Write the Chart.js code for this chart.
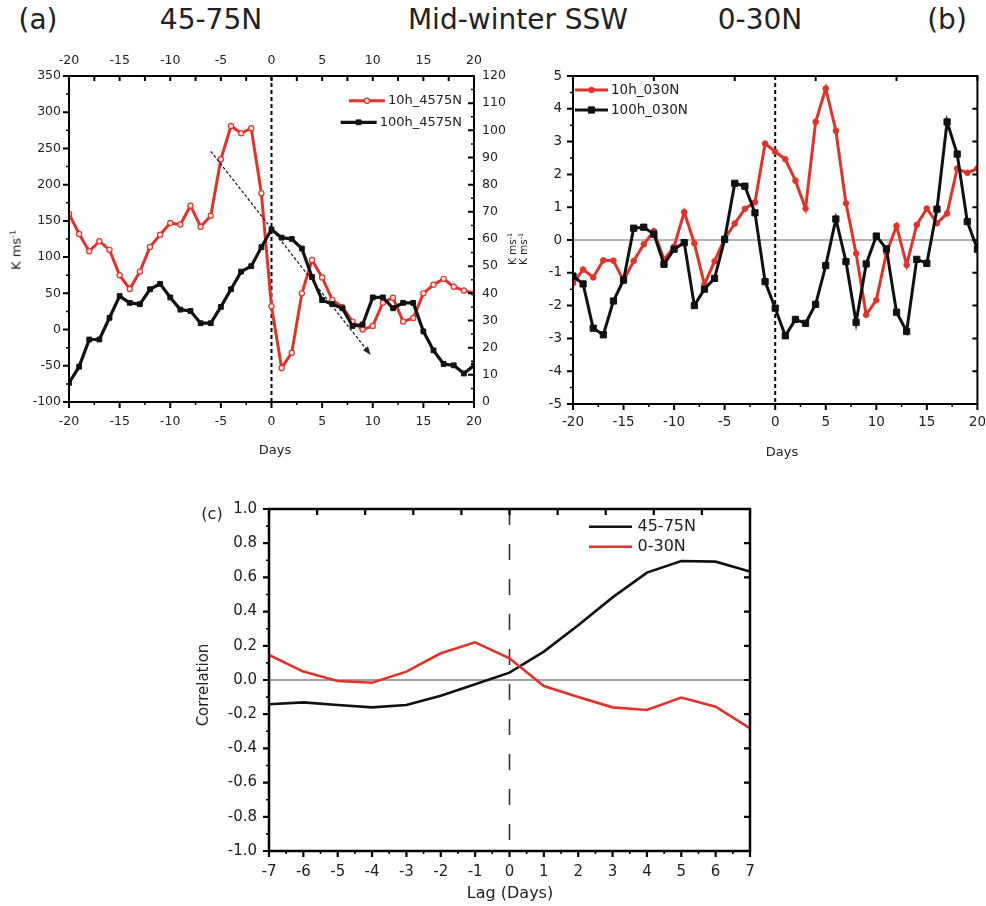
<!DOCTYPE html>
<html>
<head>
<meta charset="utf-8">
<script src="https://cdn.jsdelivr.net/npm/chart.js@4.4.0/dist/chart.umd.min.js"></script>
<style>
  body { margin: 0; background: #fff; font-family: "DejaVu Sans", sans-serif; color: #222; }
  #page { position: relative; width: 986px; height: 906px; overflow: hidden; }
  canvas { position: absolute; }
  .lbl { position: absolute; transform: translate(-50%, -50%); white-space: nowrap; line-height: 1; }
  .rot { transform: translate(-50%, -50%) rotate(-90deg); }
  sup { font-size: 0.6em; vertical-align: 0.65em; line-height: 0; }
</style>
</head>
<body>
<div id="page">
  <canvas id="cA" width="535" height="430" style="left:0;top:40px"></canvas>
  <canvas id="cB" width="461" height="430" style="left:535px;top:40px"></canvas>
  <canvas id="cC" width="650" height="426" style="left:150px;top:480px"></canvas>

  <div class="lbl" style="left:38px;top:20px;font-size:28px">(a)</div>
  <div class="lbl" style="left:211px;top:20px;font-size:28px">45-75N</div>
  <div class="lbl" style="left:518px;top:20px;font-size:28px">Mid-winter SSW</div>
  <div class="lbl" style="left:760px;top:20px;font-size:28px">0-30N</div>
  <div class="lbl" style="left:947px;top:20px;font-size:28px">(b)</div>

  <div class="lbl rot" style="left:16px;top:250px;font-size:13px">K ms<sup>-1</sup></div>
  <div class="lbl rot" style="left:512px;top:249px;font-size:10.5px">K ms<sup>-1</sup></div>
  <div class="lbl rot" style="left:523px;top:249px;font-size:10.5px">K ms<sup>-1</sup></div>
  <div class="lbl" style="left:275px;top:449px;font-size:13px">Days</div>
  <div class="lbl" style="left:782px;top:451px;font-size:13px">Days</div>

  <div class="lbl" style="left:212px;top:514px;font-size:16px">(c)</div>
  <div class="lbl rot" style="left:203px;top:685px;font-size:15px">Correlation</div>
  <div class="lbl" style="left:510px;top:893px;font-size:16px">Lag (Days)</div>
</div>
<script>
// days relative to the warming onset
const days = [-20, -19, -18, -17, -16, -15, -14, -13, -12, -11, -10, -9, -8, -7, -6, -5, -4, -3, -2, -1,
              0, 1, 2, 3, 4, 5, 6, 7, 8, 9, 10, 11, 12, 13, 14, 15, 16, 17, 18, 19, 20];

// heat flux 45-75N, 10 hPa (left axis) and 100 hPa (right axis)
const flux10hMid = [160, 132, 108, 122, 110, 75, 56, 80, 114, 131, 147, 145, 171, 142, 157, 235, 281, 271, 278, 188,
                    32, -53, -32, 50, 96, 72, 41, 31, 11, 0, 5, 37, 44, 11, 16, 50, 62, 70, 59, 54, 50];
const flux100hMid = [7, 13, 23, 23, 31, 39, 36.5, 36, 41.5, 43.5, 38.5, 34, 33.5, 29, 29, 35, 41.5, 48, 50, 57,
                     63.5, 60.5, 60, 56.5, 46, 37.5, 36, 34.5, 28, 28.5, 38.5, 38.5, 34.5, 36.5, 36.5, 26, 19, 14, 13.5, 10.5, 13.5];

// heat flux 0-30N
const flux10hLow = [-1.32, -0.9, -1.14, -0.62, -0.63, -1.24, -0.64, -0.13, 0.27, -0.6, -0.2, 0.85, -0.1, -1.35, -0.65, 0.05, 0.5, 0.95, 1.15, 2.94,
                    2.69, 2.46, 1.81, 0.96, 3.6, 4.62, 3.33, 1.12, -0.41, -2.28, -1.83, -0.4, 0.43, -0.76, 0.46, 0.96, 0.51, 0.81, 2.18, 2.05, 2.18];
const flux100hLow = [-1.1, -1.34, -2.69, -2.89, -1.86, -1.22, 0.36, 0.39, 0.18, -0.74, -0.28, -0.08, -2.0, -1.5, -1.17, 0.02, 1.73, 1.64, 0.83, -1.27,
                     -2.08, -2.92, -2.42, -2.54, -1.96, -0.78, 0.64, -0.66, -2.51, -0.73, 0.12, -0.27, -2.2, -2.79, -0.59, -0.71, 0.94, 3.6, 2.62, 0.56, -0.28];

// lagged correlation between the two levels
const lags = [-7, -6, -5, -4, -3, -2, -1, 0, 1, 2, 3, 4, 5, 6, 7];
const corrMid = [-0.142, -0.131, -0.146, -0.16, -0.146, -0.092, -0.025, 0.043, 0.166, 0.32, 0.483, 0.628, 0.696, 0.692, 0.634];
const corrLow = [0.146, 0.049, -0.006, -0.016, 0.049, 0.156, 0.22, 0.127, -0.035, -0.1, -0.16, -0.175, -0.103, -0.156, -0.283];

// dashed trend arrow in panel a (day, K m/s)
const trendArrow = [[-6, 246], [9.8, -35]];

const RED = '#e4322b';
const BLACK = '#111';
const FONT = 'DejaVu Sans';

function pts(xs, ys) { return xs.map((x, i) => ({ x: x, y: ys[i] })); }

function axis(extra, size, fontSize, pad) {
  const vertical = extra.position === 'left' || extra.position === 'right';
  return Object.assign({
    type: 'linear',
    grid: { display: false, drawTicks: false },
    border: { display: false },
    ticks: { font: { family: FONT, size: fontSize }, color: '#222', padding: pad, autoSkip: false, maxRotation: 0 },
    afterFit: s => { if (vertical) s.width = size; else s.height = size; }
  }, extra, { ticks: Object.assign({ font: { family: FONT, size: fontSize }, color: '#222', padding: pad, autoSkip: false, maxRotation: 0 }, extra.ticks || {}) });
}

function marker(ctx, ds, x, y) {
  const r = ds.pointRadius;
  if (!r) return;
  ctx.fillStyle = ds.pointBackgroundColor;
  ctx.strokeStyle = ds.pointBorderColor;
  ctx.lineWidth = ds.pointBorderWidth;
  ctx.beginPath();
  if (ds.pointStyle === 'rect') {
    const s = r * Math.SQRT1_2;
    ctx.rect(x - s, y - s, 2 * s, 2 * s);
  } else {
    ctx.arc(x, y, r, 0, Math.PI * 2);
  }
  ctx.fill();
  ctx.stroke();
}

// frame, tick marks, reference lines, arrow and in-plot legend
const panelDecor = {
  id: 'panelDecor',
  beforeDatasetsDraw(chart, args, o) {
    const { ctx, chartArea: a } = chart;
    ctx.save();
    ctx.beginPath();
    ctx.rect(a.left, a.top, a.right - a.left, a.bottom - a.top);
    ctx.clip();
    (o.refs || []).forEach(r => {
      const sc = chart.scales[r.scale];
      const p = sc.getPixelForValue(r.value);
      ctx.beginPath();
      ctx.setLineDash(r.dash || []);
      ctx.lineWidth = r.width;
      ctx.strokeStyle = r.color;
      if (sc.isHorizontal()) { ctx.moveTo(p, a.top); ctx.lineTo(p, a.bottom); }
      else { ctx.moveTo(a.left, p); ctx.lineTo(a.right, p); }
      ctx.stroke();
    });
    ctx.restore();
  },
  afterDatasetsDraw(chart, args, o) {
    const { ctx, chartArea: a } = chart;
    ctx.save();

    if (o.arrow) {
      const A = o.arrow;
      const xs = chart.scales[A.xScale], ys = chart.scales[A.yScale];
      const x1 = xs.getPixelForValue(A.points[0][0]), y1 = ys.getPixelForValue(A.points[0][1]);
      const x2 = xs.getPixelForValue(A.points[1][0]), y2 = ys.getPixelForValue(A.points[1][1]);
      const ang = Math.atan2(y2 - y1, x2 - x1);
      const head = 9;
      ctx.strokeStyle = '#222';
      ctx.fillStyle = '#222';
      ctx.lineWidth = A.width;
      ctx.setLineDash(A.dash);
      ctx.beginPath();
      ctx.moveTo(x1, y1);
      ctx.lineTo(x2 - head * 0.7 * Math.cos(ang), y2 - head * 0.7 * Math.sin(ang));
      ctx.stroke();
      ctx.setLineDash([]);
      ctx.beginPath();
      ctx.moveTo(x2, y2);
      ctx.lineTo(x2 - head * Math.cos(ang - 0.35), y2 - head * Math.sin(ang - 0.35));
      ctx.lineTo(x2 - head * Math.cos(ang + 0.35), y2 - head * Math.sin(ang + 0.35));
      ctx.closePath();
      ctx.fill();
    }

    ctx.setLineDash([]);
    ctx.strokeStyle = '#000';
    ctx.lineWidth = o.frame;
    ctx.strokeRect(a.left, a.top, a.right - a.left, a.bottom - a.top);

    (o.ticks || []).forEach(t => {
      const sc = chart.scales[t.scale];
      const n = Math.round((t.to - t.from) / t.step);
      const d = t.out ? t.len : -t.len;
      ctx.lineWidth = t.width;
      ctx.beginPath();
      for (let i = 0; i <= n; i++) {
        const p = sc.getPixelForValue(t.from + i * t.step);
        if (t.side === 'left') { ctx.moveTo(a.left, p); ctx.lineTo(a.left - d, p); }
        else if (t.side === 'right') { ctx.moveTo(a.right, p); ctx.lineTo(a.right + d, p); }
        else if (t.side === 'top') { ctx.moveTo(p, a.top); ctx.lineTo(p, a.top - d); }
        else { ctx.moveTo(p, a.bottom); ctx.lineTo(p, a.bottom + d); }
      }
      ctx.stroke();
    });

    if (o.legend) {
      const L = o.legend;
      ctx.font = L.size + 'px "' + FONT + '"';
      ctx.textBaseline = 'middle';
      ctx.textAlign = 'left';
      L.items.forEach((idx, k) => {
        const ds = chart.data.datasets[idx];
        const y = L.y + k * L.row;
        let x0, tx;
        if (L.align === 'right') {
          const w = ctx.measureText(ds.label).width;
          tx = L.x - w;
          x0 = tx - L.gap - L.len;
        } else {
          x0 = L.x;
          tx = L.x + L.len + L.gap;
        }
        ctx.strokeStyle = ds.borderColor;
        ctx.lineWidth = ds.borderWidth;
        ctx.beginPath();
        ctx.moveTo(x0, y);
        ctx.lineTo(x0 + L.len, y);
        ctx.stroke();
        marker(ctx, ds, x0 + L.len / 2, y);
        ctx.fillStyle = '#222';
        ctx.fillText(ds.label, tx, y);
      });
    }
    ctx.restore();
  }
};

const base = {
  responsive: false,
  animation: false,
  events: [],
  elements: { line: { tension: 0 } }
};

// (a) 45-75N
new Chart(document.getElementById('cA'), {
  type: 'line',
  data: {
    datasets: [
      { label: '10h_4575N', data: pts(days, flux10hMid), xAxisID: 'x', yAxisID: 'y',
        borderColor: RED, borderWidth: 3, pointStyle: 'circle', pointRadius: 2.6,
        pointBackgroundColor: '#fde4e0', pointBorderColor: RED, pointBorderWidth: 1.2, order: 2 },
      { label: '100h_4575N', data: pts(days, flux100hMid), xAxisID: 'x', yAxisID: 'y2',
        borderColor: BLACK, borderWidth: 3.2, pointStyle: 'rect', pointRadius: 3.4,
        pointBackgroundColor: BLACK, pointBorderColor: BLACK, pointBorderWidth: 1, order: 1 }
    ]
  },
  options: Object.assign({}, base, {
    layout: { padding: 0 },
    scales: {
      x: axis({ position: 'bottom', min: -20, max: 20, ticks: { stepSize: 5 } }, 68, 12.5, 12),
      x2: axis({ position: 'top', min: -20, max: 20, ticks: { stepSize: 5 } }, 36, 12.5, 8),
      y: axis({ position: 'left', min: -100, max: 350, ticks: { stepSize: 50 } }, 69, 12.5, 8),
      y2: axis({ position: 'right', min: 0, max: 120, ticks: { stepSize: 10 } }, 61, 12.5, 8)
    },
    plugins: {
      legend: { display: false },
      tooltip: { enabled: false },
      panelDecor: {
        frame: 2,
        refs: [{ scale: 'x', value: 0, dash: [4, 3], width: 2, color: '#000' }],
        arrow: { xScale: 'x', yScale: 'y', points: trendArrow, dash: [3, 2], width: 1.3 },
        ticks: [
          { scale: 'y', side: 'left', from: -100, to: 350, step: 50, len: 6, out: true, width: 2 },
          { scale: 'y', side: 'left', from: -75, to: 325, step: 50, len: 3, out: true, width: 1.5 },
          { scale: 'y2', side: 'right', from: 0, to: 120, step: 10, len: 6, out: false, width: 2 },
          { scale: 'y2', side: 'right', from: 5, to: 115, step: 10, len: 3, out: false, width: 1.5 },
          { scale: 'x', side: 'bottom', from: -20, to: 20, step: 5, len: 6, out: true, width: 2 },
          { scale: 'x', side: 'bottom', from: -17.5, to: 17.5, step: 5, len: 3, out: true, width: 1.5 },
          { scale: 'x', side: 'top', from: -20, to: 20, step: 2.5, len: 5, out: false, width: 2 }
        ],
        legend: { align: 'right', x: 462, y: 60.7, row: 21.6, len: 36, gap: 3, size: 13, items: [0, 1] }
      }
    }
  }),
  plugins: [panelDecor]
});

// (b) 0-30N
new Chart(document.getElementById('cB'), {
  type: 'line',
  data: {
    datasets: [
      { label: '10h_030N', data: pts(days, flux10hLow), xAxisID: 'x', yAxisID: 'y',
        borderColor: RED, borderWidth: 3, pointStyle: 'circle', pointRadius: 2.8,
        pointBackgroundColor: RED, pointBorderColor: RED, pointBorderWidth: 1, order: 2 },
      { label: '100h_030N', data: pts(days, flux100hLow), xAxisID: 'x', yAxisID: 'y',
        borderColor: BLACK, borderWidth: 3, pointStyle: 'rect', pointRadius: 4.4,
        pointBackgroundColor: BLACK, pointBorderColor: BLACK, pointBorderWidth: 1, order: 1 }
    ]
  },
  options: Object.assign({}, base, {
    layout: { padding: { top: 36, right: 18, left: 0, bottom: 0 } },
    scales: {
      x: axis({ position: 'bottom', min: -20, max: 20, ticks: { stepSize: 5 } }, 66, 13.5, 10),
      y: axis({ position: 'left', min: -5, max: 5, ticks: { stepSize: 1 } }, 38, 13.5, 11)
    },
    plugins: {
      legend: { display: false },
      tooltip: { enabled: false },
      panelDecor: {
        frame: 2,
        refs: [
          { scale: 'y', value: 0, width: 1, color: '#666' },
          { scale: 'x', value: 0, dash: [4, 3], width: 2, color: '#000' }
        ],
        ticks: [
          { scale: 'y', side: 'left', from: -5, to: 5, step: 1, len: 6, out: true, width: 2 },
          { scale: 'y', side: 'left', from: -4.5, to: 4.5, step: 1, len: 3, out: true, width: 1.5 },
          { scale: 'y', side: 'right', from: -5, to: 5, step: 1, len: 5, out: false, width: 2 },
          { scale: 'x', side: 'bottom', from: -20, to: 20, step: 5, len: 6, out: true, width: 2 },
          { scale: 'x', side: 'bottom', from: -17.5, to: 17.5, step: 5, len: 3, out: true, width: 1.5 },
          { scale: 'x', side: 'top', from: -20, to: 20, step: 8, len: 5, out: false, width: 2 }
        ],
        legend: { align: 'left', x: 40, y: 50, row: 20, len: 33, gap: 3, size: 13.5, items: [0, 1] }
      }
    }
  }),
  plugins: [panelDecor]
});

// (c) lagged correlation
new Chart(document.getElementById('cC'), {
  type: 'line',
  data: {
    datasets: [
      { label: '45-75N', data: pts(lags, corrMid), borderColor: BLACK, borderWidth: 2.6,
        pointRadius: 0, order: 2 },
      { label: '0-30N', data: pts(lags, corrLow), borderColor: RED, borderWidth: 2.6,
        pointRadius: 0, order: 1 }
    ]
  },
  options: Object.assign({}, base, {
    layout: { padding: { top: 29, right: 50, left: 0, bottom: 0 } },
    scales: {
      x: axis({ position: 'bottom', min: -7, max: 7, ticks: { stepSize: 1 } }, 55, 15, 12),
      y: axis({ position: 'left', min: -1, max: 1, ticks: { stepSize: 0.2, callback: v => v.toFixed(1) } }, 119, 15, 12)
    },
    plugins: {
      legend: { display: false },
      tooltip: { enabled: false },
      panelDecor: {
        frame: 2.5,
        refs: [
          { scale: 'y', value: 0, width: 1, color: '#444' },
          { scale: 'x', value: 0, dash: [16, 19], width: 1.6, color: '#333' }
        ],
        ticks: [
          { scale: 'y', side: 'left', from: -1, to: 1, step: 0.2, len: 6, out: true, width: 2.2 },
          { scale: 'y', side: 'left', from: -0.9, to: 0.9, step: 0.2, len: 3, out: true, width: 1.6 },
          { scale: 'y', side: 'right', from: -1, to: 1, step: 0.2, len: 6, out: false, width: 2.2 },
          { scale: 'x', side: 'bottom', from: -7, to: 7, step: 1, len: 6, out: true, width: 2.2 },
          { scale: 'x', side: 'bottom', from: -6.5, to: 6.5, step: 1, len: 3, out: true, width: 1.6 },
          { scale: 'x', side: 'top', from: -7, to: 7, step: 1.4, len: 6, out: false, width: 2.2 }
        ],
        legend: { align: 'left', x: 439, y: 46.7, row: 20, len: 43, gap: 5.5, size: 16, items: [0, 1] }
      }
    }
  }),
  plugins: [panelDecor]
});
</script>
</body>
</html>
